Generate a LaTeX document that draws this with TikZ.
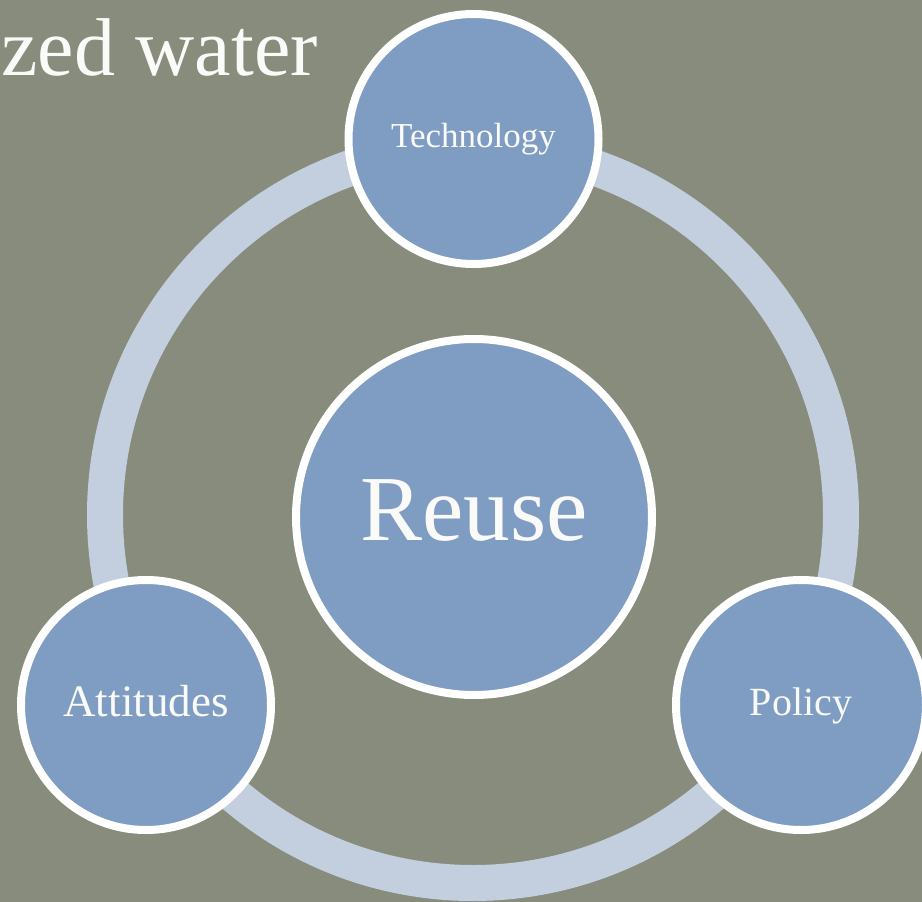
\documentclass[tikz,border=0pt]{standalone}
\usepackage{fontspec}
\setmainfont{Liberation Serif}
\definecolor{bgc}{RGB}{135,140,125}
\definecolor{bluec}{RGB}{127,157,194}
\definecolor{ringc}{RGB}{195,206,223}
\definecolor{txtc}{RGB}{250,250,248}
\tikzset{
  bubble/.style={circle, draw=white, fill=bluec, line width=8pt, inner sep=0pt, outer sep=0pt,
    text=txtc, align=center},
  satellite/.style={bubble, minimum size=250pt},
  hub/.style={bubble, minimum size=356pt, font=\fontsize{93}{100}\selectfont, text height=65pt, text depth=19pt},
  ringstyle/.style={draw=ringc, line width=36pt}
}
\begin{document}
\begin{tikzpicture}[x=1pt,y=-1pt]
\clip (0,0) rectangle (922,902);
\fill[bgc] (0,0) rectangle (922,902);
\coordinate (ringcenter) at (473,515);
\draw[ringstyle] (ringcenter) circle[radius=368pt];
\node[anchor=base east, text=txtc, font=\fontsize{82}{90}\selectfont, inner sep=0pt] (title) at (318,75) {zed water};
\node[hub] (reuse) at (474,517) {Reuse};
\node[satellite, font=\fontsize{35}{40}\selectfont, text height=24.5pt, text depth=7pt] (tech) at (473.5,139) {Technology};
\node[satellite, font=\fontsize{45}{50}\selectfont, text height=31pt, text depth=9pt] (att) at (146,705) {Attitudes};
\node[satellite, font=\fontsize{40}{46}\selectfont, text height=28pt, text depth=8pt] (pol) at (801,705) {Policy};
\end{tikzpicture}
\end{document}
